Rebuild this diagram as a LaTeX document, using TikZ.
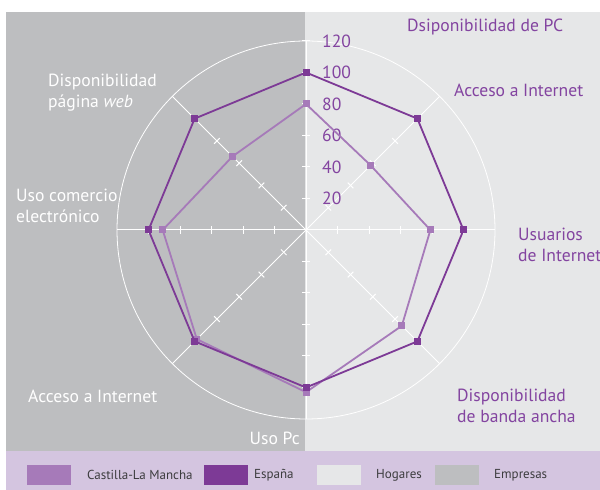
\documentclass[tikz,border=0pt]{standalone}
\usepackage{fontspec}
\setmainfont{PT Sans}
\definecolor{leftgray}{RGB}{189,190,192}
\definecolor{rightgray}{RGB}{230,231,232}
\definecolor{lavender}{RGB}{212,197,224}
\definecolor{espcol}{RGB}{125,58,150}
\definecolor{clmcol}{RGB}{166,122,185}
\definecolor{lblpurple}{RGB}{131,68,160}
\definecolor{legtext}{RGB}{60,60,62}
\begin{document}
\begin{tikzpicture}[x=1pt,y=1pt,
  axisline/.style={draw=white, line width=1pt},
  lbl/.style={inner sep=0pt, align=left, font=\fontsize{17.6}{21.5}\selectfont},
  rlbl/.style={lbl, text=lblpurple},
  wlbl/.style={lbl, text=white},
  numlbl/.style={inner sep=0pt, anchor=west, text=lblpurple, font=\fontsize{17.6}{19}\selectfont},
  espmark/.style={rectangle, fill=espcol, minimum size=7pt, inner sep=0pt},
  clmmark/.style={rectangle, fill=clmcol, minimum size=7pt, inner sep=0pt},
  espline/.style={draw=espcol, line width=1.8pt, line join=miter},
  clmline/.style={draw=clmcol, line width=1.8pt, line join=miter},
  legbox/.style={rectangle, minimum width=44pt, minimum height=20pt, inner sep=0pt},
  legtxt/.style={anchor=west, inner sep=0pt, text=legtext, font=\fontsize{13}{15}\selectfont}]
\useasboundingbox (0,0) rectangle (600,490);
\fill[white] (0,0) rectangle (600,490);
\fill[leftgray] (6,39) rectangle (305,478);
\fill[rightgray] (305,39) rectangle (600,478);
\fill[lavender] (6,0) rectangle (600,39);
\coordinate (O) at (306,260);
% grid
\draw[white, line width=0.8pt] (O) circle (189);
\foreach \a in {0,45,...,315}{
  \draw[axisline] (O) -- ++(\a:189);
  \foreach \r in {31.5,63,94.5,126,157.5}
    \draw[axisline] ([shift={(\a:\r)}]O) ++(\a+90:4) -- ++(\a-90:8);
}
\draw[axisline] ([shift={(90:189)}]O) ++(-4,0) -- ++(8,0);
% scale numbers
\foreach \v/\r in {20/31.5,40/63,60/94.5,80/126,100/157.5,120/189}
  \node[numlbl] (n\v) at (322,260+\r) {\v};
% Castilla-La Mancha
\foreach \i/\a/\r in {1/90/126,2/45/91.4,3/0/124.4,4/-45/135.5,5/-90/162.2,6/-135/154.4,7/180/143.3,8/135/104}
  \coordinate (cp\i) at ([shift={(\a:\r)}]O);
\draw[clmline] (cp1) -- (cp2) -- (cp3) -- (cp4) -- (cp5) -- (cp6) -- (cp7) -- (cp8) -- cycle;
\foreach \i in {1,...,8} \node[clmmark] (c\i) at (cp\i) {};
% Espana
\foreach \i/\a in {1/90,2/45,3/0,4/-45,5/-90,6/-135,7/180,8/135}
  \coordinate (ep\i) at ([shift={(\a:157.5)}]O);
\draw[espline] (ep1) -- (ep2) -- (ep3) -- (ep4) -- (ep5) -- (ep6) -- (ep7) -- (ep8) -- cycle;
\foreach \i in {1,...,8} \node[espmark] (e\i) at (ep\i) {};
% axis labels
\node[rlbl, anchor=base west] (l1) at (407,458) {Dsiponibilidad de PC};
\node[rlbl, anchor=base west] (l2) at (454,393) {Acceso a Internet};
\node[rlbl, anchor=base west] (l3) at (518,228) {Usuarios\\de Internet};
\node[rlbl, anchor=base west] (l4) at (457,67) {Disponibilidad\\de banda ancha};
\node[wlbl, anchor=base east] (l5) at (300,45) {Uso Pc};
\node[wlbl, anchor=base west] (l6) at (28,87) {Acceso a Internet};
\node[wlbl, anchor=base west] (l7) at (16,267) {Uso comercio\\electrónico};
\node[wlbl, anchor=base west] (l8) at (48,382) {Disponibilidad\\página \textit{web}};
% legend
\node[legbox, fill=clmcol] (k1) at (49,15) {};
\node[legtxt] (t1) at (87,15) {Castilla-La Mancha};
\node[legbox, fill=espcol] (k2) at (226,15) {};
\node[legtxt] (t2) at (254,15) {España};
\node[legbox, fill=rightgray] (k3) at (339,15) {};
\node[legtxt] (t3) at (376,15) {Hogares};
\node[legbox, fill=leftgray] (k4) at (457,15) {};
\node[legtxt] (t4) at (494,15) {Empresas};
\end{tikzpicture}
\end{document}
